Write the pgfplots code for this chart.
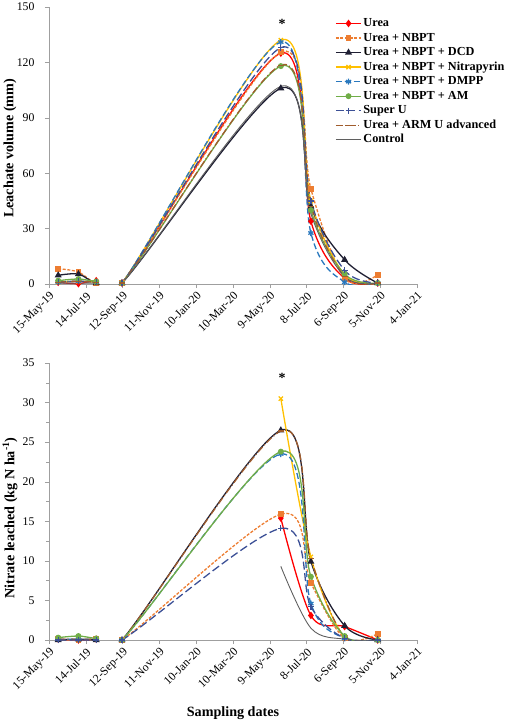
\documentclass[border=0pt]{standalone}
\usepackage{fontspec}
\setmainfont{Liberation Serif}
\usepackage{pgfplots}
\pgfplotsset{compat=1.18}
\definecolor{cUrea}{RGB}{255,0,0}
\definecolor{cNBPT}{RGB}{237,125,49}
\definecolor{cDCD}{RGB}{31,31,51}
\definecolor{cNitra}{RGB}{255,192,0}
\definecolor{cDMPP}{RGB}{41,120,190}
\definecolor{cAM}{RGB}{112,173,71}
\definecolor{cSuperU}{RGB}{60,80,150}
\definecolor{cARM}{RGB}{160,92,45}
\definecolor{cControl}{RGB}{95,95,95}
\pgfplotsset{
  base/.style={
    scale only axis, width=368bp, height=277bp,
    xmin=0, xmax=600, ymin=0,
    axis x line=bottom, axis y line=left,
    axis line style={-, draw=gray!75},
    xtick={0,60,...,600},
    xticklabels={15-May-19,14-Jul-19,12-Sep-19,11-Nov-19,10-Jan-20,10-Mar-20,9-May-20,8-Jul-20,6-Sep-20,5-Nov-20,4-Jan-21},
    xticklabel style={rotate=45, anchor=north east, font=\fontsize{11.8}{13}\selectfont, inner sep=2pt},
    yticklabel style={font=\fontsize{11.8}{13}\selectfont, xshift=-7bp},
    /pgf/number format/assume math mode=true,
    tick align=outside,
    major tick length=4bp, minor tick length=2.5bp,
    every tick/.style={gray!75, thin},
    ylabel style={font=\fontsize{14.2}{16}\selectfont\bfseries, anchor=center},
    s/.style={smooth, tension=0.55, line width=1.3pt, mark size=2.4pt, mark options={solid}},
  },
  pUrea/.style={s, cUrea, mark=diamond*, mark size=2.8pt},
  pNBPT/.style={s, cNBPT, dash pattern=on 3pt off 1.6pt, mark=square*, mark size=2.3pt},
  pDCD/.style={s, cDCD, mark=triangle*, mark size=2.8pt},
  pNitra/.style={s, cNitra, mark=x, mark size=3pt},
  pDMPP/.style={s, cDMPP, dash pattern=on 6pt off 3pt, mark=asterisk, mark size=3pt},
  pAM/.style={s, cAM, mark=*, mark size=2.3pt},
  pSuperU/.style={s, cSuperU, dash pattern=on 8pt off 3.5pt, mark=+, mark size=3pt},
  pARM/.style={s, cARM, dash pattern=on 7pt off 2.5pt on 1pt off 2.5pt, mark=-, mark size=3pt},
  pControl/.style={smooth, tension=0.55, cControl, line width=0.9pt, mark=none},
}
\begin{document}
\begin{tikzpicture}
\path[use as bounding box] (-49bp,7bp) rectangle (461bp,-715bp);
% ---------------- top panel ----------------
\begin{axis}[base, at={(0,0)}, anchor=north west,
  ymax=150, ytick={0,30,...,150},
  ylabel={Leachate volume (mm)},
  ylabel style={at={(axis description cs:-0.106,0.49)}},
  legend style={at={(axis description cs:0.777,0.9675)}, anchor=north west,
    draw=none, fill=none, font=\fontsize{12.3}{14}\selectfont\bfseries,
    inner sep=0pt, row sep=0pt,
    nodes={inner xsep=1.5pt, inner ysep=1.8pt, text height=8.5pt, text depth=2.5pt}},
  legend cell align=left,
  legend image code/.code={\draw[mark repeat=2,mark phase=2] plot coordinates {(0cm,0cm) (0.45cm,0cm) (0.9cm,0cm)};},
]
\addplot[pUrea] coordinates {(15,0.9) (48,0.2) (77,1.8) (119,0.5) (378,125) (427,34) (482,3) (536,0.5)};
\addlegendentry{Urea}
\addplot[pNBPT] coordinates {(15,8.3) (48,6.5) (77,0.5) (119,0.5) (378,125.5) (427,51.5) (482,3) (536,5.0)};
\addlegendentry{Urea + NBPT}
\addplot[pDCD] coordinates {(15,4.7) (48,5.4) (77,0.5) (119,0.5) (378,106) (427,42) (482,13.1) (536,0.5)};
\addlegendentry{Urea + NBPT + DCD}
\addplot[pNitra] coordinates {(15,1) (48,1.5) (77,1) (119,0.5) (378,132) (427,45) (482,5) (536,0.5)};
\addlegendentry{Urea + NBPT + Nitrapyrin}
\addplot[pDMPP] coordinates {(15,1) (48,1.5) (77,1) (119,0.5) (378,131) (427,27.6) (482,1) (536,0.5)};
\addlegendentry{Urea + NBPT + DMPP}
\addplot[pAM] coordinates {(15,1.8) (48,2.7) (77,1.4) (119,0.5) (378,118) (427,40) (482,5.4) (536,0.5)};
\addlegendentry{Urea + NBPT + AM}
\addplot[pSuperU] coordinates {(15,1) (48,1.5) (77,1) (119,0.5) (378,128) (427,45) (482,7.4) (536,0.5)};
\addlegendentry{Super U}
\addplot[pARM] coordinates {(15,1) (48,1.5) (77,1) (119,0.5) (378,118.5) (427,42) (482,4) (536,0.5)};
\addlegendentry{Urea + ARM U advanced}
\addplot[pControl] coordinates {(15,0.5) (48,0.5) (77,0.5) (119,0.5) (378,107) (427,38) (482,4) (536,0.5)};
\addlegendentry{Control}
\node[font=\fontsize{14}{16}\selectfont\bfseries] at (axis cs:380,141) {*};
\end{axis}
% ---------------- bottom panel ----------------
\begin{axis}[base, at={(0,-356bp)}, anchor=north west,
  ymax=35, ytick={0,5,...,35}, minor y tick num=1,
  ylabel={Nitrate leached (kg N ha\textsuperscript{-1})},
  ylabel style={at={(axis description cs:-0.106,0.44)}},
  xlabel={Sampling dates},
  xlabel style={font=\fontsize{14.2}{16}\selectfont\bfseries, at={(axis description cs:0.5,-0.2635)}, anchor=center},
]
\addplot[pUrea] coordinates {(15,0.1) (48,0) (77,0.1)};
\addplot[pUrea] coordinates {(378,15.4) (427,3.1) (482,1.7) (536,0)};
\addplot[pNBPT] coordinates {(15,0.1) (48,0) (77,0.1) (119,0) (378,15.9) (427,7.2) (482,0.2) (536,0.8)};
\addplot[pDCD] coordinates {(15,0) (48,0.1) (77,0) (119,0) (378,26.5) (427,9.9) (482,1.8) (536,0)};
\addplot[pNitra] coordinates {(378,30.5) (427,10.5) (482,0.3) (536,0)};
\addplot[pDMPP] coordinates {(15,0.1) (48,0.1) (77,0.1) (119,0) (378,23.5) (427,4.6) (482,0.2) (536,0)};
\addplot[pARM] coordinates {(15,0.1) (48,0.1) (77,0.1) (119,0) (378,26.4) (427,10.3) (482,0.3) (536,0)};
\addplot[pAM] coordinates {(15,0.3) (48,0.5) (77,0.2) (119,0) (378,23.8) (427,8) (482,0.5) (536,0)};
\addplot[pSuperU] coordinates {(15,0) (48,0) (77,0) (119,0) (378,14.1) (427,4.2) (482,0.2) (536,0)};
\addplot[pControl] coordinates {(378,9.3) (427,1.5) (482,0.1) (536,0)};
\node[font=\fontsize{14}{16}\selectfont\bfseries] at (axis cs:380,33.1) {*};
\end{axis}
\end{tikzpicture}
\end{document}
